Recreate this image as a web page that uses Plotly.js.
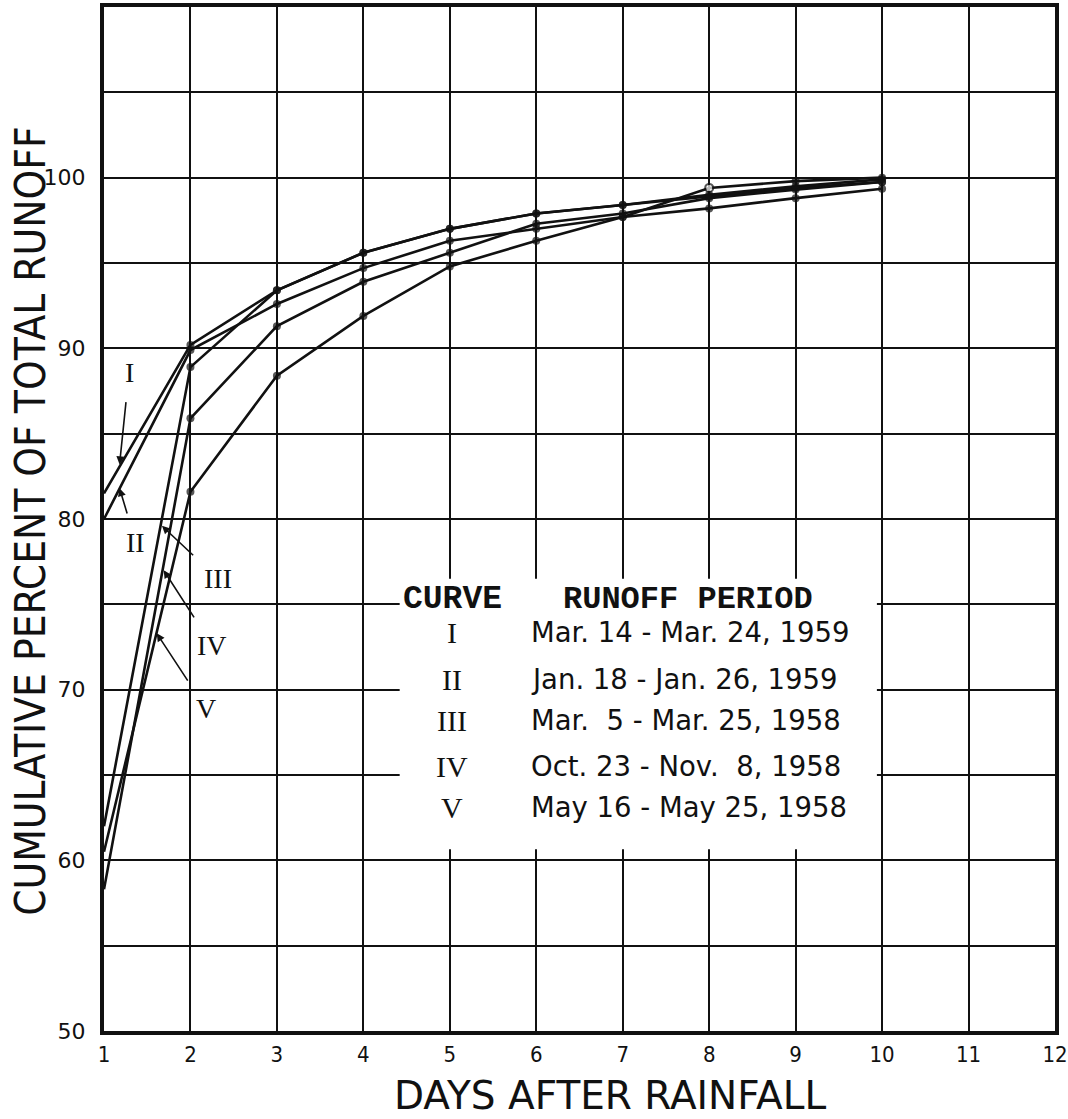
<!DOCTYPE html>
<html>
<head>
<meta charset="utf-8">
<script src="https://cdn.plot.ly/plotly-3.0.1.min.js"></script>
<style>
  html, body { margin: 0; padding: 0; background: #fff; }
  #chart { width: 1068px; height: 1119px; }
</style>
</head>
<body>
<div id="chart"></div>
<script>
// ---- data ----
const days = [1, 2, 3, 4, 5, 6, 7, 8, 9, 10];
const curveI   = [81.5, 90.2, 93.4, 95.6, 97.0, 97.9, 98.4, 99.0, 99.5, 99.9];
const curveII  = [80.0, 89.9, 92.6, 94.7, 96.3, 97.0, 97.7, 98.2, 98.8, 99.35];
const curveIII = [62.0, 88.9, 93.4, 95.6, 97.0, 97.9, 98.4, 98.9, 99.4, 99.75];
const curveIV  = [58.3, 85.9, 91.3, 93.9, 95.6, 97.3, 97.9, 98.8, 99.3, 99.75];
const curveV   = [60.5, 81.6, 88.4, 91.9, 94.8, 96.3, 97.7, 99.4, 99.8, 100.0];
const curveNames = ['I', 'II', 'III', 'IV', 'V'];
const periods = [
  'Mar. 14 - Mar. 24, 1959',
  'Jan. 18 - Jan. 26, 1959',
  'Mar.  5 - Mar. 25, 1958',
  'Oct. 23 - Nov.  8, 1958',
  'May 16 - May 25, 1958'
];
const xTicks = [1, 2, 3, 4, 5, 6, 7, 8, 9, 10, 11, 12];
const yTicks = [50, 60, 70, 80, 90, 100];

// ---- styling / layout ----
const ink = '#111';
const series = [curveI, curveII, curveIII, curveIV, curveV];
const traces = series.map((vals, i) => ({
  type: 'scatter', mode: 'lines+markers',
  x: days, y: vals, name: curveNames[i],
  line: { color: ink, width: 2.6 },
  marker: {
    color: i === 4 ? days.map((d) => d === 8 ? '#fff' : ink) : ink,
    size: days.map((d) => d === 1 ? 0 : 8),
    line: { color: ink, width: i === 4 ? days.map((d) => d === 8 ? 2 : 0) : 0 }
  },
  hoverinfo: 'x+y+name'
}));

// curve label annotations: [label, textX, textY, tipX, tipY]
const curveLabels = [
  ['I',   1.29, 88.6, 1.18, 83.2],
  ['II',  1.37, 78.6, 1.18, 81.8],
  ['III', 2.32, 76.5, 1.67, 79.6],
  ['IV',  2.25, 72.6, 1.69, 77.0],
  ['V',   2.18, 68.9, 1.61, 73.3]
];

const annotations = [];
curveLabels.forEach(([t, tx, ty, px, py]) => {
  annotations.push({
    x: px, y: py, xref: 'x', yref: 'y',
    ax: tx, ay: ty, axref: 'x', ayref: 'y',
    text: t, showarrow: true, arrowhead: 2, arrowsize: 1, arrowwidth: 1.6,
    arrowcolor: ink, standoff: 0, startstandoff: 13,
    font: { family: 'Liberation Serif', size: 28, color: ink }
  });
});

// legend table
const legendRowsY = [73.37, 70.6, 68.2, 65.5, 63.1];
annotations.push({
  x: 5.03, y: 75.3, xref: 'x', yref: 'y', text: '<b>CURVE</b>', showarrow: false,
  xanchor: 'center', yanchor: 'middle',
  font: { family: 'Liberation Mono', size: 33, color: ink }
});
annotations.push({
  x: 7.75, y: 75.3, xref: 'x', yref: 'y', text: '<b>RUNOFF PERIOD</b>', showarrow: false,
  xanchor: 'center', yanchor: 'middle',
  font: { family: 'Liberation Mono', size: 32, color: ink }
});
curveNames.forEach((n, i) => {
  annotations.push({
    x: 5.02, y: legendRowsY[i], xref: 'x', yref: 'y', text: n, showarrow: false,
    xanchor: 'center', yanchor: 'middle',
    font: { family: 'Liberation Serif', size: 30, color: ink }
  });
  annotations.push({
    x: 5.92, y: legendRowsY[i], xref: 'x', yref: 'y', text: periods[i], showarrow: false,
    xanchor: 'left', yanchor: 'middle',
    font: { family: 'DejaVu Sans', size: 27.5, color: ink }
  });
});

// axis titles
annotations.push({
  x: 0.532, y: -0.0625, xref: 'paper', yref: 'paper', text: 'DAYS AFTER RAINFALL',
  showarrow: false, xanchor: 'center', yanchor: 'middle',
  font: { family: 'DejaVu Sans', size: 39, color: ink }
});
annotations.push({
  x: -0.078, y: 0.498, xref: 'paper', yref: 'paper', text: 'CUMULATIVE PERCENT OF TOTAL RUNOFF',
  showarrow: false, xanchor: 'center', yanchor: 'middle', textangle: -90,
  font: { family: 'DejaVu Sans Condensed', size: 42, color: ink }
});

const layout = {
  width: 1068, height: 1119,
  margin: { l: 104, r: 13, t: 7, b: 88 },
  paper_bgcolor: '#fff', plot_bgcolor: '#fff',
  showlegend: false,
  xaxis: {
    range: [1, 12], tickvals: xTicks, ticktext: xTicks.map(String),
    showgrid: true, gridcolor: ink, gridwidth: 2, zeroline: false,
    showline: true, linecolor: ink, linewidth: 4, mirror: true,
    ticks: '', ticklabelstandoff: 1,
    tickfont: { family: 'DejaVu Sans Condensed', size: 22, color: ink }
  },
  yaxis: {
    range: [50, 110], tickvals: yTicks, ticktext: yTicks.map(String),
    showgrid: true, gridcolor: ink, gridwidth: 2, zeroline: false,
    minor: { dtick: 5, tick0: 50, showgrid: true, gridcolor: ink, gridwidth: 2, ticks: '' },
    showline: true, linecolor: ink, linewidth: 4, mirror: true,
    ticks: '', ticklabelstandoff: 10,
    tickfont: { family: 'DejaVu Sans', size: 22, color: ink }
  },
  shapes: [{
    type: 'rect', xref: 'x', yref: 'y', layer: 'between',
    x0: 4.42, x1: 9.94, y0: 60.65, y1: 76.5,
    fillcolor: '#fff', line: { width: 0 }
  }],
  annotations: annotations
};

Plotly.newPlot('chart', traces, layout, { displayModeBar: false, staticPlot: true });
</script>
</body>
</html>
